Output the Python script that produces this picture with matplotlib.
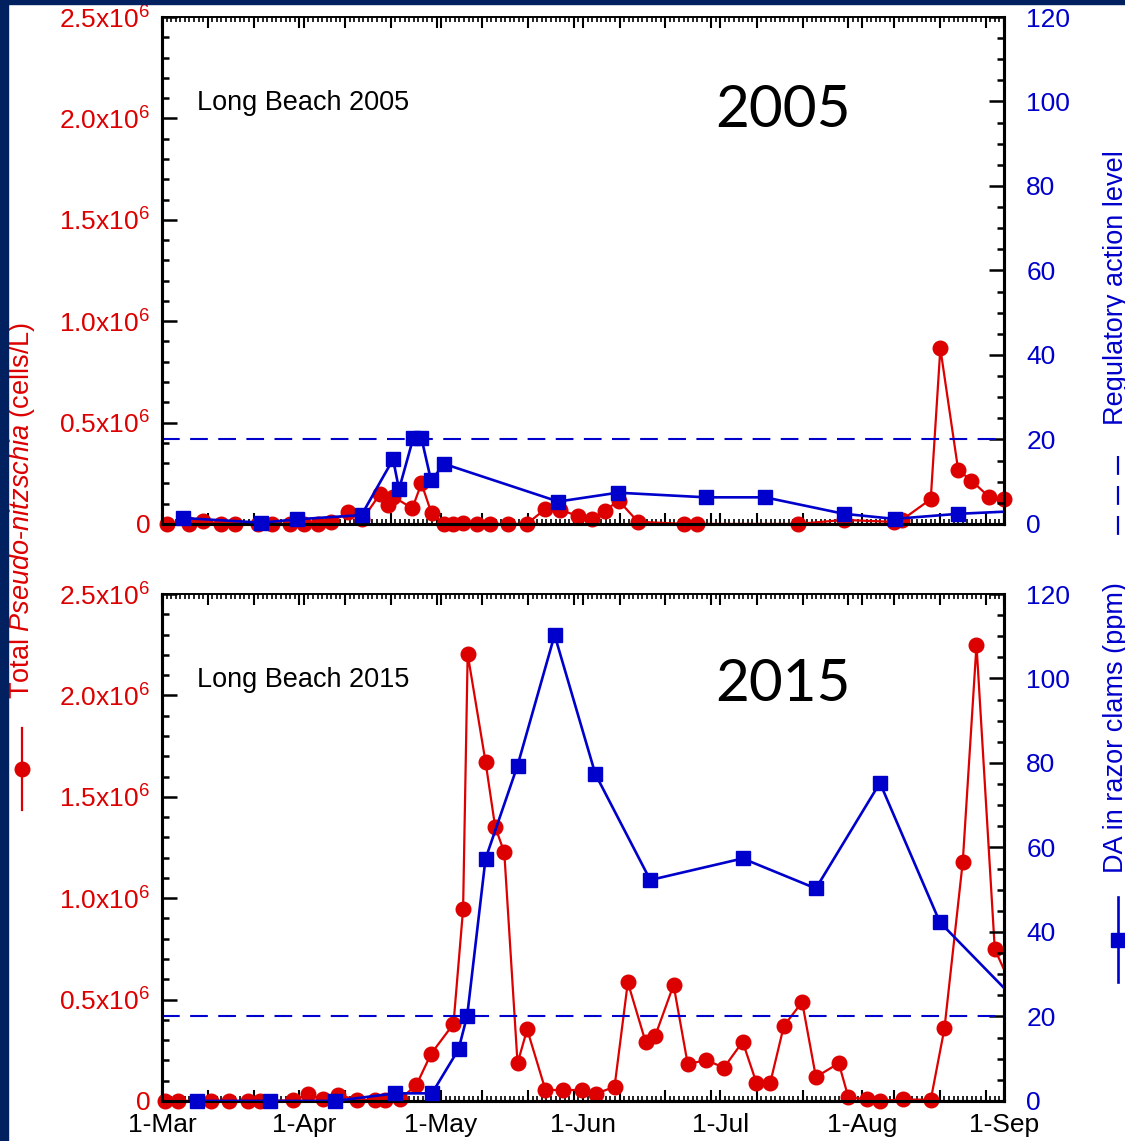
"""Long Beach 2005 vs 2015: Pseudo-nitzschia y DA en almejas."""
import numpy as np
import matplotlib
matplotlib.use("Agg")
import matplotlib.pyplot as plt
from matplotlib.lines import Line2D
from matplotlib.patches import Rectangle
from matplotlib.ticker import FixedLocator, MultipleLocator, FuncFormatter

plt.rcParams['font.family'] = ['Liberation Sans', 'DejaVu Sans']
plt.rcParams['mathtext.fontset'] = 'custom'
plt.rcParams['mathtext.rm'] = 'Liberation Sans'
plt.rcParams['mathtext.it'] = 'Liberation Sans:italic'
plt.rcParams['font.size'] = 19

RED = '#dd0000'; BLUE = '#0000cc'; NAVY = '#002060'
DASH = (8.5, 5)

# x = days since 1 March
MONTH_DAYS = [0, 31, 61, 92, 122, 153, 184]
MONTH_LABELS = ['1-Mar', '1-Apr', '1-May', '1-Jun', '1-Jul', '1-Aug', '1-Sep']
XMAX = 184
ACTION_LEVEL = 20  # ppm

# Pseudo-nitzschia, x10^6 cells/L
pn05_day = [1, 6, 9, 13, 16, 21, 24, 28, 31, 34, 37, 40.7, 43.8, 47.6, 49.4, 50.5, 54.7, 56.7, 58.9,
            61.7, 63.7, 65.8, 68.8, 71.7, 75.7, 79.7, 83.7, 87, 91, 93.9, 96.8, 99.8, 104,
            114, 117, 139, 149, 160, 161.7, 168, 170.1, 174, 176.9, 180.8, 184]
pn05_val = [0, 0, 0.016, 0, 0, 0, 0, 0, 0, 0, 0.01, 0.058, 0.023, 0.146, 0.094, 0.135, 0.077, 0.2, 0.053,
            0, 0, 0.005, 0, 0, 0, 0, 0.072, 0.069, 0.039, 0.023, 0.066, 0.115, 0.011,
            0, 0, 0, 0.02, 0.01, 0.02, 0.122, 0.866, 0.266, 0.214, 0.132, 0.122]
# DA in razor clams, ppm
da05_day = [4.6, 21.7, 29.6, 43.6, 50.5, 51.8, 54.9, 56.7, 58.8, 61.7, 86.6, 99.6, 118.9, 131.8, 149, 160.1, 174, 190]
da05_val = [1.4, 0.3, 1.1, 2.1, 15.3, 8.2, 20.3, 20.3, 10.3, 14.2, 5.3, 7.4, 6.3, 6.3, 2.4, 1.2, 2.4, 3.2]

pn15_day = [0.6, 3.5, 10.8, 14.6, 18.7, 21.4, 28.7, 31.9, 35.2, 38.5, 42.7, 46.5, 48.7, 52,
            55.6, 58.8, 63.7, 65.8, 66.8, 70.7, 72.8, 74.8, 77.7, 79.8, 83.8, 87.7, 91.7, 94.8, 98.9,
            101.8, 105.7, 107.8, 111.8, 114.9, 118.9, 122.8, 126.9, 129.9, 132.9, 135.9, 139.9, 142.9,
            147.9, 150, 154, 157, 161.9, 168, 171, 175, 178, 182, 186]
pn15_val = [0, 0, 0, 0, 0, 0, 0.003, 0.033, 0.008, 0.03, 0.005, 0.005, 0.005, 0.008,
            0.079, 0.232, 0.38, 0.945, 2.204, 1.673, 1.353, 1.226, 0.186, 0.353, 0.054, 0.054, 0.054, 0.035, 0.07,
            0.585, 0.29, 0.322, 0.572, 0.181, 0.202, 0.164, 0.292, 0.09, 0.087, 0.37, 0.488, 0.118,
            0.186, 0.018, 0.008, 0, 0.008, 0.005, 0.358, 1.18, 2.249, 0.748, 0.55]
da15_day = [7.7, 23.6, 37.8, 51, 59, 64.8, 66.7, 70.7, 77.7, 85.8, 94.7, 106.7, 126.9, 142.9, 156.9, 170, 191]
da15_val = [0, 0, 0, 1.8, 1.8, 12.2, 20.2, 57.3, 79.4, 110.3, 77.4, 52.3, 57.4, 50.3, 75.3, 42.3, 19]


def series(ax, d, v, color, marker, lw):
    d = np.asarray(d); v = np.asarray(v); m = d <= XMAX
    ax.plot(d, v, color=color, lw=lw, zorder=3)
    ax.plot(d[m], v[m], ls='none', marker=marker, ms=10.5, color=color, clip_on=False, zorder=4)


def panel(ax, pn_d, pn_v, da_d, da_v, site, year, show_x, year_y):
    ax2 = ax.twinx()
    series(ax, pn_d, pn_v, RED, 'o', 1.6)
    series(ax2, da_d, da_v, BLUE, 's', 1.9)
    ax2.axhline(ACTION_LEVEL, color=BLUE, lw=1.5, dashes=DASH, zorder=2)
    ax.set_xlim(0, XMAX); ax.set_ylim(0, 2.5); ax2.set_ylim(0, 120)

    xt = sorted(set(MONTH_DAYS + list(range(10, XMAX, 10))))
    ax.xaxis.set_major_locator(FixedLocator(xt))
    ax.xaxis.set_minor_locator(MultipleLocator(1))
    ax.xaxis.set_major_formatter(FuncFormatter(
        lambda x, p: MONTH_LABELS[MONTH_DAYS.index(int(round(x)))] if int(round(x)) in MONTH_DAYS else ''))
    ax.yaxis.set_major_locator(MultipleLocator(0.5)); ax.yaxis.set_minor_locator(MultipleLocator(0.1))
    ax.yaxis.set_major_formatter(FuncFormatter(lambda y, p: '0' if y == 0 else f'{y:.1f}x10$^{{6}}$'))
    ax2.yaxis.set_major_locator(MultipleLocator(20)); ax2.yaxis.set_minor_locator(MultipleLocator(5))

    ax.tick_params(axis='x', which='both', direction='in', top=True, bottom=True,
                   labelbottom=show_x, pad=9, width=1.5)
    ax.tick_params(axis='x', which='major', length=8)
    ax.tick_params(axis='x', which='minor', length=3.5, width=1.2)
    ax.tick_params(axis='y', which='both', direction='in', right=False, labelcolor=RED, pad=8.5, width=1.8)
    ax.tick_params(axis='y', which='major', length=11)
    ax.tick_params(axis='y', which='minor', length=5)
    ax2.tick_params(axis='y', which='both', direction='in', left=False, labelcolor=BLUE, pad=16, width=1.8)
    ax2.tick_params(axis='y', which='major', length=11)
    ax2.tick_params(axis='y', which='minor', length=5)
    for a in (ax, ax2):
        for s in ('left', 'right', 'bottom'):
            a.spines[s].set_linewidth(2.2)
        a.spines['top'].set_linewidth(1.2)

    ax.text(0.042, 0.831, site, transform=ax.transAxes, fontsize=19.5, va='center', ha='left')
    ax.text(0.738, year_y, year, transform=ax.transAxes, fontsize=42, va='center', ha='center',
            family=['Lato', 'DejaVu Sans'])


fig = plt.figure(figsize=(11.25, 11.41), dpi=100)
ax_top = fig.add_axes([0.144, 0.5408, 0.7484, 0.4443])
ax_bot = fig.add_axes([0.144, 0.0351, 0.7484, 0.4443])
panel(ax_top, pn05_day, pn05_val, da05_day, da05_val, 'Long Beach 2005', '2005', False, 0.815)
panel(ax_bot, pn15_day, pn15_val, da15_day, da15_val, 'Long Beach 2015', '2015', True, 0.821)

# shared axis titles with legend keys
W, H = 1125, 1141
fx = lambda px: px / W
fy = lambda py: 1 - py / H
fig.text(fx(22), fy(510), 'Total $\\mathit{Pseudo}$-$\\mathit{nitzschia}$ (cells/L)', rotation=90,
         ha='center', va='center', color=RED, fontsize=19.5)
fig.add_artist(Line2D([fx(22)] * 2, [fy(728), fy(810)], color=RED, lw=1.6, transform=fig.transFigure))
fig.add_artist(Line2D([fx(22)], [fy(769)], marker='o', ms=10.5, color=RED, transform=fig.transFigure))

fig.text(fx(1116), fy(288), 'Regulatory action level', rotation=90, ha='center', va='center',
         color=BLUE, fontsize=19.5)
fig.add_artist(Line2D([fx(1118)] * 2, [fy(456), fy(540)], color=BLUE, lw=1.6, dashes=DASH,
                      transform=fig.transFigure))
fig.text(fx(1116), fy(728), 'DA in razor clams (ppm)', rotation=90, ha='center', va='center',
         color=BLUE, fontsize=19.5)
fig.add_artist(Line2D([fx(1118)] * 2, [fy(897), fy(982)], color=BLUE, lw=1.9, transform=fig.transFigure))
fig.add_artist(Line2D([fx(1118)], [fy(940)], marker='s', ms=10.5, color=BLUE, transform=fig.transFigure))

# slide frame
fig.add_artist(Rectangle((0, 0), fx(8), 1, transform=fig.transFigure, color=NAVY, zorder=10))
fig.add_artist(Rectangle((0, fy(4)), 1, 4 / H, transform=fig.transFigure, color=NAVY, zorder=10))

fig.savefig('out.png', dpi=100)
